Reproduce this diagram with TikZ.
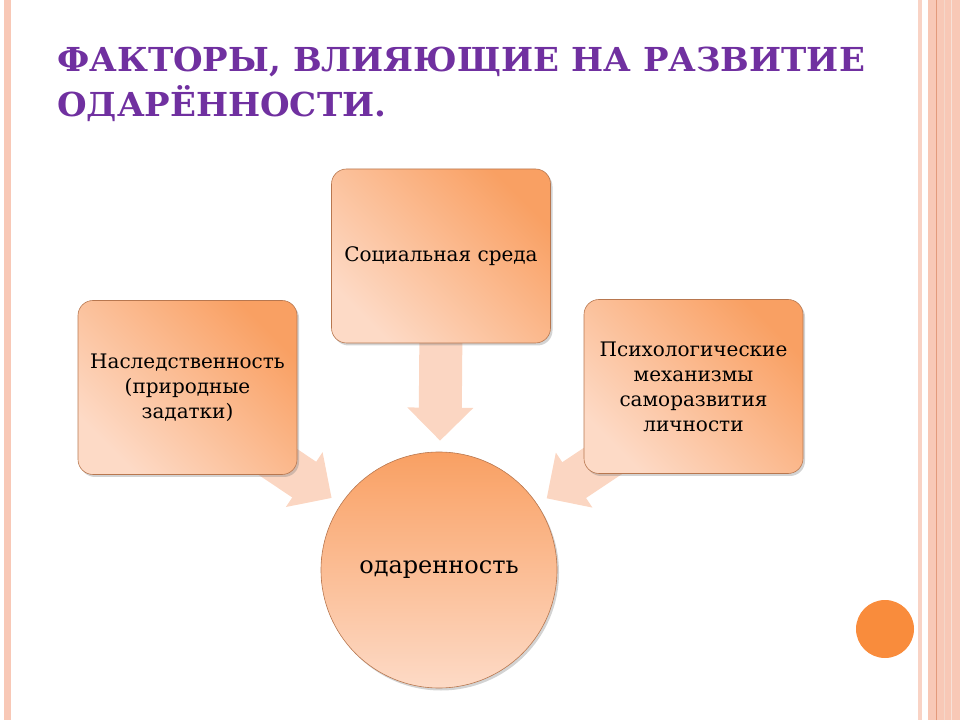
\documentclass[tikz,border=0pt]{standalone}
\usepackage{fontspec}
\setmainfont{DejaVu Serif}
\newfontfamily\slidetitlefont{DejaVu Serif}[FakeStretch=1.03]
\usepackage{tikz}
\usetikzlibrary{calc,positioning,shadows,arrows.meta,backgrounds}
\tikzset{>=stealth}
\definecolor{titlepurple}{HTML}{7030A0}
\definecolor{boxdark}{HTML}{F9A063}
\definecolor{boxlight}{HTML}{FDDAC6}
\definecolor{boxline}{HTML}{B8774F}
\definecolor{arrowfill}{HTML}{FBD6C2}
\definecolor{stripe}{HTML}{F8C8B6}
\definecolor{stripedark}{HTML}{E39A7B}
\definecolor{dotorange}{HTML}{F98C3C}

\begin{document}
\begin{tikzpicture}[x=1pt,y=1pt,
    factor/.style={rounded corners=15pt, draw=boxline, line width=0.6pt,
      left color=boxlight, right color=boxdark, shading angle=135,
      minimum width=219pt, minimum height=174pt, align=center, inner sep=4pt,
      font=\fontsize{20}{25}\selectfont,
      drop shadow={opacity=0.35, shadow xshift=2pt, shadow yshift=-2.5pt}},
    gift/.style={circle, draw=boxline, line width=0.6pt,
      top color=boxdark, bottom color=boxlight, minimum size=236pt,
      font=\fontsize{24}{28}\selectfont,
      drop shadow={opacity=0.35, shadow xshift=2pt, shadow yshift=-2.5pt}},
    fatarrow/.style={line width=43pt, draw=arrowfill, shorten >=11pt,
      -{Triangle[width=64pt, length=33pt]}}]
    \useasboundingbox (0,0) rectangle (960,720);
    % frame
    \fill[stripe] (4,0) rectangle (11,720);
    \fill[stripe!80] (918,0) rectangle (921.5,720);
    \fill[stripe] (928,0) rectangle (960,720);
    \draw[stripedark, line width=1pt] (936.5,0) -- (936.5,720);
    \draw[stripedark!40, line width=0.8pt] (944,0) -- (944,720);
    \draw[stripedark!30, line width=0.8pt] (951,0) -- (951,720);
    \fill[dotorange] (885,91) circle [radius=29];
    % title
    \node[anchor=base west, inner sep=0pt, align=left, text=titlepurple,
      font=\slidetitlefont\bfseries\fontsize{33}{45}\selectfont] (title) at (57,603)
      {ФАКТОРЫ, ВЛИЯЮЩИЕ НА РАЗВИТИЕ\\ОДАРЁННОСТИ.};
    % factors
    \node[factor] (social) at (441,464) {Социальная среда};
    \node[factor] (heredity) at (187.5,332.5) {Наследственность\\(природные\\задатки)};
    \node[factor] (psych) at (693.5,333.5) {Психологические\\механизмы\\саморазвития\\личности};
    \node[gift] (gift) at (439,150) {одаренность};
    \coordinate (socfrom) at ($(social.south)+(0,20)$);
    \coordinate (herfrom) at ($(heredity.south east)+(-45,30)$);
    \coordinate (psyfrom) at ($(psych.south west)+(45,30)$);
    \begin{scope}[on background layer]
      \draw[fatarrow] (socfrom) -- (gift);
      \draw[fatarrow] (herfrom) -- (gift);
      \draw[fatarrow] (psyfrom) -- (gift);
    \end{scope}
  \end{tikzpicture}
\end{document}
